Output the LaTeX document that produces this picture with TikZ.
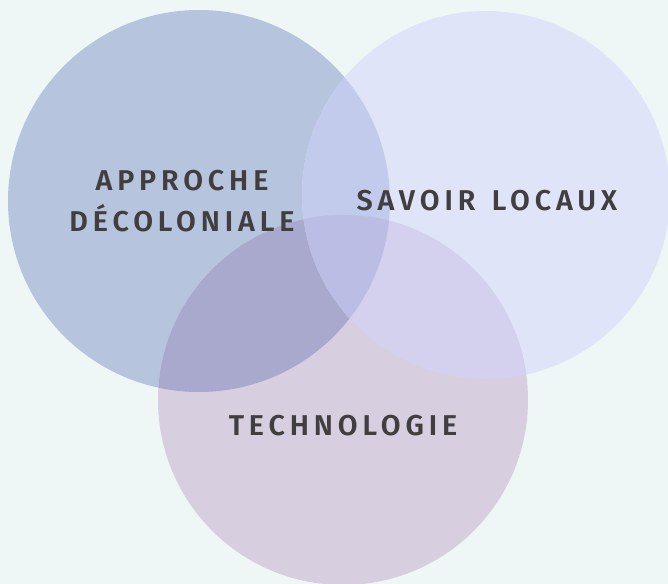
\documentclass[tikz,border=0pt]{standalone}
\usepackage{fontspec}
\setmainfont{Fira Sans}[BoldFont={Fira Sans SemiBold}]
\usepackage{tikz}
\usepackage{xcolor}

\definecolor{bgmint}{HTML}{EEF7F5}
\definecolor{colA}{HTML}{B7C4DD}
\definecolor{colB}{HTML}{E0E4F8}
\definecolor{colC}{HTML}{D7CFE0}
\definecolor{colAB}{HTML}{C3CBEC}
\definecolor{colAC}{HTML}{A9A9CD}
\definecolor{colBC}{HTML}{D3D1EE}
\definecolor{colABC}{HTML}{BBBDE5}
\definecolor{txtgrey}{HTML}{413E40}

\tikzset{
  label text/.style={inner sep=0.75pt, text=txtgrey, align=center,
    font=\fontsize{21.5}{31}\selectfont\bfseries\addfontfeatures{LetterSpace=17}}
}

\begin{document}
\begin{tikzpicture}[x=0.75pt,y=0.75pt,yscale=-1,xscale=1]
  \useasboundingbox (0,0) rectangle (668,584);
  \fill[bgmint] (0,0) rectangle (668,584);
  %Shape: Circle left
  \fill[colA] (199,201) circle (191);
  %Shape: Circle right
  \fill[colB] (486,195) circle (184);
  %Shape: Circle bottom
  \fill[colC] (343,400) circle (185);
  % overlaps
  \begin{scope}
    \clip (199,201) circle (191);
    \fill[colAB] (486,195) circle (184);
    \fill[colAC] (343,400) circle (185);
  \end{scope}
  \begin{scope}
    \clip (486,195) circle (184);
    \fill[colBC] (343,400) circle (185);
  \end{scope}
  \begin{scope}
    \clip (199,201) circle (191);
    \clip (486,195) circle (184);
    \fill[colABC] (343,400) circle (185);
  \end{scope}

  % Text Node
  \node[label text] (approche) at (182,201) {APPROCHE\\DÉCOLONIALE};
  % Text Node
  \node[label text] (savoir) at (487,201) {SAVOIR\hspace{3.5pt} LOCAUX};
  % Text Node
  \node[label text] (techno) at (343,426) {TECHNOLOGIE};
\end{tikzpicture}
\end{document}
